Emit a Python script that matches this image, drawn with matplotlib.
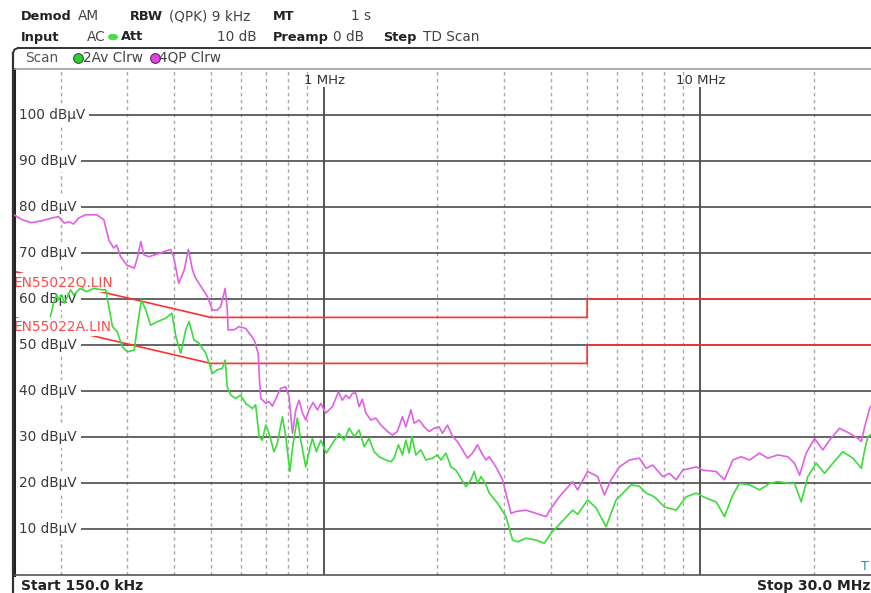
import matplotlib
matplotlib.use("Agg")
import matplotlib.pyplot as plt
from matplotlib.lines import Line2D
from matplotlib.ticker import NullLocator

# ---------------- data ----------------
qp_freq = [0.150, 0.158, 0.167, 0.178, 0.189, 0.197, 0.204, 0.210, 0.216, 0.223,
           0.232, 0.249, 0.260, 0.268, 0.276, 0.281, 0.288, 0.299, 0.313, 0.318,
           0.326, 0.332, 0.343, 0.364, 0.391, 0.399, 0.411, 0.425, 0.436, 0.447,
           0.456, 0.490, 0.505, 0.520, 0.531, 0.546, 0.553, 0.556, 0.577, 0.594,
           0.619, 0.652, 0.668, 0.674, 0.679, 0.700, 0.714, 0.729, 0.745, 0.767,
           0.791, 0.807, 0.824, 0.841, 0.858, 0.876, 0.894, 0.912, 0.935, 0.960,
           0.980, 1.010, 1.052, 1.092, 1.118, 1.142, 1.166, 1.190, 1.214, 1.239,
           1.264, 1.291, 1.331, 1.373, 1.415, 1.474, 1.519, 1.566, 1.615, 1.649,
           1.701, 1.735, 1.789, 1.845, 1.902, 1.961, 2.022, 2.063, 2.128, 2.194,
           2.262, 2.333, 2.405, 2.480, 2.557, 2.611, 2.692, 2.747, 2.862, 2.980,
           3.073, 3.137, 3.235, 3.439, 3.656, 3.888, 4.009, 4.217, 4.575, 4.717,
           5.015, 5.333, 5.556, 5.789, 6.090, 6.475, 6.883, 7.172, 7.467, 7.938,
           8.272, 8.618, 8.973, 9.741, 10.14, 11.01, 11.58, 12.19, 12.83, 13.50,
           14.36, 15.10, 16.06, 17.07, 17.78, 18.34, 19.10, 20.10, 21.15, 22.03,
           23.43, 24.91, 26.21, 26.76, 27.31, 28.16, 29.0]
qp_level = [78.3, 77.2, 76.6, 77.0, 77.6, 77.9, 76.5, 76.8, 76.3, 77.6,
            78.3, 78.3, 77.2, 72.8, 71.1, 71.7, 69.2, 67.4, 66.7, 68.5,
            72.5, 69.6, 69.2, 69.9, 70.8, 68.9, 63.4, 66.3, 70.8, 66.3,
            64.5, 60.5, 57.6, 57.6, 58.3, 62.3, 57.6, 53.3, 53.3, 54.0,
            53.6, 51.1, 48.2, 42.0, 38.4, 37.3, 37.7, 36.7, 38.4, 40.6,
            40.9, 38.8, 30.8, 35.9, 38.0, 35.2, 33.7, 35.9, 37.5, 35.9,
            37.3, 35.2, 36.6, 39.8, 38.0, 39.1, 38.4, 39.5, 39.6, 36.6,
            38.2, 35.2, 33.7, 34.1, 32.6, 31.2, 30.4, 31.2, 34.4, 32.2,
            35.9, 33.0, 33.7, 32.2, 31.2, 31.9, 32.2, 30.8, 32.6, 30.1,
            29.0, 27.2, 25.4, 26.5, 28.3, 26.8, 25.0, 25.7, 23.5, 20.7,
            16.3, 13.4, 13.8, 14.1, 13.4, 12.7, 14.5, 17.0, 20.3, 18.5,
            22.5, 21.4, 17.4, 20.7, 23.5, 25.0, 25.4, 23.2, 23.9, 21.4,
            22.1, 20.7, 22.8, 23.5, 22.8, 22.5, 20.7, 25.0, 25.7, 25.0,
            26.5, 25.4, 26.1, 25.7, 24.3, 21.7, 26.5, 29.7, 27.2, 29.3,
            31.9, 30.8, 29.7, 29.0, 32.2, 36.2, 38.0]

av_freq = [0.1875, 0.191, 0.195, 0.197, 0.201, 0.204, 0.208, 0.212, 0.216, 0.225,
           0.234, 0.244, 0.257, 0.263, 0.268, 0.274, 0.282, 0.291, 0.300, 0.313,
           0.319, 0.327, 0.336, 0.346, 0.361, 0.379, 0.394, 0.404, 0.416, 0.429,
           0.438, 0.451, 0.465, 0.485, 0.505, 0.520, 0.536, 0.546, 0.553, 0.565,
           0.582, 0.600, 0.619, 0.645, 0.658, 0.672, 0.685, 0.700, 0.714, 0.736,
           0.751, 0.775, 0.791, 0.811, 0.827, 0.849, 0.867, 0.894, 0.916, 0.931,
           0.954, 0.980, 1.014, 1.052, 1.096, 1.130, 1.166, 1.202, 1.239, 1.278,
           1.317, 1.358, 1.401, 1.459, 1.504, 1.535, 1.576, 1.615, 1.649, 1.683,
           1.711, 1.753, 1.808, 1.864, 1.941, 2.001, 2.044, 2.107, 2.173, 2.240,
           2.310, 2.382, 2.456, 2.506, 2.557, 2.611, 2.692, 2.747, 2.890, 3.043,
           3.168, 3.267, 3.439, 3.656, 3.847, 4.009, 4.217, 4.575, 4.717, 5.015,
           5.280, 5.614, 5.968, 6.542, 6.883, 7.172, 7.546, 8.022, 8.618, 9.162,
           9.741, 10.36, 11.01, 11.58, 12.19, 12.70, 13.50, 14.36, 15.26, 16.06,
           17.25, 17.78, 18.53, 19.29, 20.31, 21.37, 22.48, 23.90, 25.42, 26.76,
           27.31, 27.86, 29.0]
av_level = [56.2, 59.1, 60.9, 59.8, 60.9, 59.1, 60.5, 62.0, 60.9, 62.3,
            61.6, 62.3, 62.0, 62.0, 58.3, 54.0, 52.9, 49.6, 48.5, 48.9,
            54.0, 59.8, 57.6, 54.3, 55.1, 55.8, 56.9, 51.8, 48.2, 53.3,
            55.1, 51.1, 50.4, 48.2, 43.8, 44.6, 44.9, 46.7, 40.9, 39.1,
            38.4, 39.1, 37.3, 36.2, 37.0, 30.1, 29.3, 32.6, 30.8, 26.8,
            28.6, 34.4, 30.1, 22.5, 28.6, 34.1, 29.3, 23.5, 27.5, 29.7,
            26.8, 29.3, 26.5, 28.6, 30.8, 29.3, 31.9, 30.1, 31.5, 27.9,
            29.7, 26.8, 25.7, 25.0, 24.6, 25.4, 28.3, 26.1, 29.3, 26.5,
            30.1, 26.1, 27.2, 25.0, 25.4, 26.1, 25.0, 26.5, 23.5, 22.8,
            21.0, 19.2, 20.7, 22.5, 19.9, 21.4, 19.6, 17.8, 15.6, 12.7,
            7.6, 7.2, 8.0, 7.6, 6.9, 9.1, 11.0, 14.1, 13.2, 16.3,
            14.6, 10.5, 16.3, 19.6, 19.3, 17.8, 17.0, 14.8, 14.1, 17.0,
            17.8, 16.7, 15.9, 12.7, 17.4, 19.9, 19.6, 18.5, 19.9, 20.3,
            19.9, 19.9, 15.9, 21.4, 24.3, 22.1, 24.3, 26.8, 25.4, 23.2,
            27.2, 30.1, 31.0]

limq_freq = [0.15, 0.5, 5.0, 5.0, 30.0]
limq_level = [66, 56, 56, 60, 60]
lima_freq = [0.15, 0.5, 5.0, 5.0, 30.0]
lima_level = [56, 46, 46, 50, 50]

y_grid = [10, 20, 30, 40, 50, 60, 70, 80, 90, 100]
y_labels = ["%d dBµV" % v for v in y_grid]
x_dashed = [0.2, 0.3, 0.4, 0.5, 0.6, 0.7, 0.8, 0.9,
            2, 3, 4, 5, 6, 7, 8, 9, 20]
x_major = [1, 10]
x_major_labels = ["1 MHz", "10 MHz"]

# ---------------- figure ----------------
W, H = 871, 593
fig = plt.figure(figsize=(W / 100, H / 100), dpi=100)
fig.patch.set_facecolor("white")


def fx(x):
    return x / W


def fy(y):
    return 1 - y / H


# plot area (right edge beyond the cropped image, as in the reference)
ax = fig.add_axes([fx(14), fy(575), (880 - 14) / W, (575 - 69) / H])
ax.set_xscale("log")
ax.set_xlim(0.15, 30)
ax.set_ylim(0, 110)
ax.xaxis.set_minor_locator(NullLocator())
ax.xaxis.set_major_locator(NullLocator())
ax.yaxis.set_major_locator(NullLocator())
ax.tick_params(which="both", length=0, labelbottom=False, labelleft=False)
ax.spines["right"].set_visible(False)
ax.spines["left"].set_color("#222222")
ax.spines["left"].set_linewidth(2.2)
ax.spines["top"].set_color("#a0a0a0")
ax.spines["top"].set_linewidth(1.2)
ax.spines["bottom"].set_color("#555555")
ax.spines["bottom"].set_linewidth(1.2)

# grid
for f in x_dashed:
    ax.axvline(f, color="#a8a8a8", lw=1.0, ls=(0, (2.5, 2.5)), zorder=1)
for v in y_grid:
    ax.axhline(v, color="#3c3c3c", lw=1.1, zorder=1)
for f, lab in zip(x_major, x_major_labels):
    ax.vlines(f, 0, 106, color="#4a4a4a", lw=1.3, zorder=1)
    ax.text(f, 107.6, lab, ha="center", va="center", fontsize=9.5,
            color="#333333", zorder=3)

ytr = ax.get_yaxis_transform()
for v, lab in zip(y_grid, y_labels):
    ax.text(0.0062, v, lab, transform=ytr, ha="left", va="center",
            fontsize=9.8, color="#3a3a3a", zorder=2,
            bbox=dict(facecolor="white", edgecolor="none", pad=2.6))

# limit lines
lim_color = "#ff3030"
ax.plot(limq_freq, limq_level, color=lim_color, lw=1.2, zorder=2)
ax.plot(lima_freq, lima_level, color=lim_color, lw=1.2, zorder=2)
ax.text(0.0, 63.6, "EN55022Q.LIN", transform=ytr, ha="left", va="center",
        fontsize=9.9, color="#ff4a4a", zorder=2.5,
        bbox=dict(facecolor="white", edgecolor="none", pad=1.6))
ax.text(0.0, 53.9, "EN55022A.LIN", transform=ytr, ha="left", va="center",
        fontsize=9.9, color="#ff4a4a", zorder=2.5,
        bbox=dict(facecolor="white", edgecolor="none", pad=1.6))

# traces
ax.plot(av_freq, av_level, color="#3cdc3c", lw=1.2, zorder=4)
ax.plot(qp_freq, qp_level, color="#e060e6", lw=1.2, zorder=5)


# ---------------- header ----------------
def hdr(x, y, s, bold=False, color="#222222", size=None):
    if size is None:
        size = 9.3 if bold else 9.8
    fig.text(fx(x), fy(y), s, fontsize=size, ha="left", va="center",
             fontweight="bold" if bold else "normal", color=color)


hdr(21, 16, "Demod", True)
hdr(78, 16, "AM", color="#444444")
hdr(130, 16, "RBW", True)
hdr(169, 16, "(QPK) 9 kHz", color="#444444")
hdr(273, 16, "MT", True)
hdr(351, 16, "1 s", color="#444444")
hdr(21, 37, "Input", True)
hdr(87, 37, "AC", color="#444444")
hdr(121, 37, "Att", True)
hdr(217, 37, "10 dB", color="#444444")
hdr(273, 37, "Preamp", True)
hdr(333, 37, "0 dB", color="#444444")
hdr(383, 37, "Step", True)
hdr(423, 37, "TD Scan", color="#444444")
fig.add_artist(Line2D([fx(110.5), fx(115)], [fy(37), fy(37)], color="#44dd44",
                      lw=4.2, solid_capstyle="round"))

# scan header frame
fig.add_artist(Line2D([fx(18), fx(871)], [fy(48), fy(48)], color="#333333", lw=1.4))
fig.add_artist(Line2D([fx(13), fx(13)], [fy(53), fy(593)], color="#333333", lw=1.6))
fig.add_artist(Line2D([fx(13), fx(14.5), fx(18)], [fy(53), fy(49.5), fy(48)],
                      color="#333333", lw=1.4))
hdr(25, 57.5, "Scan", color="#555555")
fig.add_artist(Line2D([fx(78)], [fy(57.5)], marker="o", markersize=7,
                      markerfacecolor="#33cc33", markeredgecolor="#226622",
                      markeredgewidth=0.8, linestyle="none"))
hdr(83, 57.5, "2Av Clrw", color="#444444")
fig.add_artist(Line2D([fx(154.5)], [fy(57.5)], marker="o", markersize=7,
                      markerfacecolor="#dd44dd", markeredgecolor="#662266",
                      markeredgewidth=0.8, linestyle="none"))
hdr(159, 57.5, "4QP Clrw", color="#444444")

# footer
hdr(21, 586, "Start 150.0 kHz", True, size=10)
hdr(757, 586, "Stop 30.0 MHz", True, size=10)
fig.text(fx(861), fy(567), "T", fontsize=9, ha="left", va="center", color="#2a8fa0")

fig.savefig("out.png", dpi=100, facecolor="white")
